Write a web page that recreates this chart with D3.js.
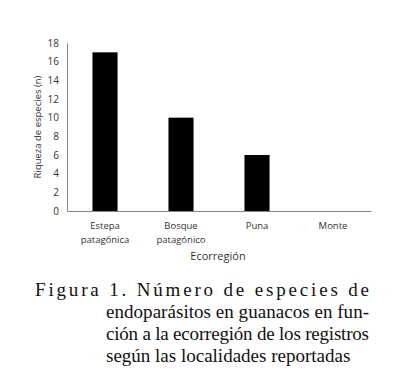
<!DOCTYPE html>
<html><head><meta charset="utf-8">
<script src="https://d3js.org/d3.v7.min.js"></script>
</head><body style="margin:0">
<script>
const categories = [["Estepa","patagónica"],["Bosque","patagónico"],["Puna"],["Monte"]];
const values = [17, 10, 6, 0];
const yTicks = [0,2,4,6,8,10,12,14,16,18];
const yLabel = "Riqueza de especies (n)";
const xLabel = "Ecorregión";
const caption = [
  "Figura 1. Número de especies de",
  "endoparásitos en guanacos en fun-",
  "ción a la ecorregión de los registros",
  "según las localidades reportadas"
];

const W = 397, H = 385;
const svg = d3.select("body").append("svg").attr("width", W).attr("height", H);
const m = {left: 67, right: 371, top: 43, bottom: 211};
const x = d3.scaleBand().domain(d3.range(categories.length)).range([m.left, m.right]).paddingInner(0.67).paddingOuter(0.335);
const y = d3.scaleLinear().domain([0, 18]).range([m.bottom, m.top]);
const font = "'Open Sans', 'Liberation Sans', sans-serif";

// caption
const capLines = [
  {x: 35, y: 296, w: 334},
  {x: 106, y: 318, w: 263},
  {x: 106, y: 340, w: 263},
  {x: 106, y: 362, w: null}
];
const cap = svg.append("g").attr("font-family", "Liberation Serif").attr("font-size", 19).attr("fill", "#111");
caption.forEach((c, i) => {
  const t = cap.append("text").attr("x", capLines[i].x).attr("y", capLines[i].y)
    .style("font-family", '"Liberation Serif"').text(c);
  if (capLines[i].w) t.attr("textLength", capLines[i].w).attr("lengthAdjust","spacing");
});

// axes
const yAxis = svg.append("g").attr("transform", `translate(${m.left},0)`)
  .call(d3.axisLeft(y).tickValues(yTicks).tickSize(0).tickPadding(8));
yAxis.select(".domain").attr("stroke", "#868686");
yAxis.selectAll("text").attr("font-family", font).attr("font-size", 10).attr("fill", "#333");

const xAxis = svg.append("g").attr("transform", `translate(0,${m.bottom})`)
  .call(d3.axisBottom(x).tickSize(0).tickFormat(""));
xAxis.select(".domain").attr("stroke", "#868686");

// bars
svg.selectAll("rect.bar").data(values).join("rect").attr("class","bar")
  .attr("x", (d,i) => x(i)).attr("width", x.bandwidth())
  .attr("y", d => y(d)).attr("height", d => y(0) - y(d)).attr("fill", "#000");

// x category labels
categories.forEach((lines, i) => {
  const t = svg.append("text").attr("x", x(i) + x.bandwidth()/2).attr("y", 229)
    .attr("text-anchor","middle").attr("font-family", font).attr("font-size", 9.5).attr("fill","#333");
  lines.forEach((l, j) => t.append("tspan").attr("x", x(i) + x.bandwidth()/2).attr("dy", j ? 14 : 0).text(l));
});

svg.append("text").attr("x", 218).attr("y", 260).attr("text-anchor","middle")
  .attr("font-family", font).attr("font-size", 11).attr("fill","#333").text(xLabel);

svg.append("text").attr("transform", `translate(41,${(m.top+m.bottom)/2}) rotate(-90)`)
  .attr("text-anchor","middle").attr("font-family", font).attr("font-size", 9.5).attr("fill","#333").text(yLabel);
</script>
</body></html>
